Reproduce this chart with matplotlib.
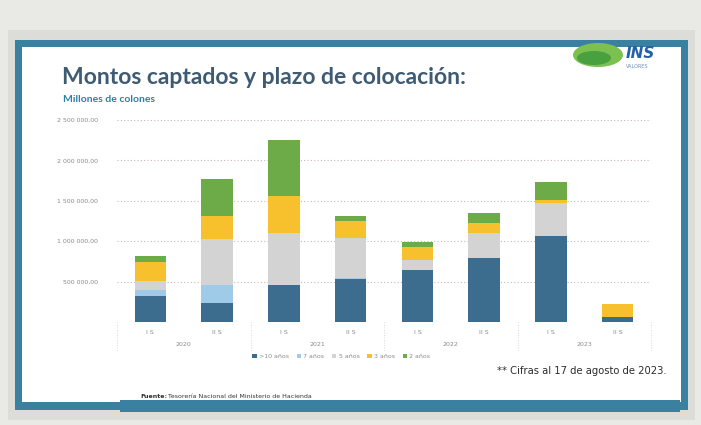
import matplotlib.pyplot as plt
from matplotlib.patches import Rectangle, Ellipse
from matplotlib.ticker import FuncFormatter
import numpy as np

# Semestres y años
semestres = ["I S", "II S", "I S", "II S", "I S", "II S", "I S", "II S"]
anios = ["2020", "2021", "2022", "2023"]

# Montos captados por plazo (millones de colones)
plazos = [">10 años", "7 años", "5 años", "3 años", "2 años"]
mas_10 = [321000, 238000, 453000, 536000, 646000, 790000, 1070000, 62000]
siete = [69000, 226000, 10000, 10000, 0, 0, 0, 0]
cinco = [123000, 568000, 642000, 494000, 123000, 312000, 403000, 0]
tres = [235000, 284000, 452000, 205000, 157000, 123000, 37000, 157000]
dos = [74000, 457000, 700000, 67000, 62000, 120000, 217000, 0]

colores = ["#3d6d8e", "#9fcbe9", "#d3d3d3", "#f6c12d", "#6daa48"]

W, H = 701, 425


def fx(x):
    return x / W


def fy(y):
    return 1 - y / H


def caja(x0, y0, x1, y1, color, z=-5):
    fig.patches.append(Rectangle((fx(x0), fy(y1)), fx(x1 - x0), (y1 - y0) / H,
                                 transform=fig.transFigure, facecolor=color,
                                 edgecolor="none", zorder=z))


fig = plt.figure(figsize=(7.01, 4.25), dpi=100)
fig.patch.set_facecolor("#e9e9e6")

# marco de la diapositiva
caja(8, 30, 695, 420, "#dcdcd8", -6)
caja(15, 40, 688, 410, "#3a80a0", -5)
caja(22, 47, 681, 402, "white", -4)
caja(120, 400, 680, 412, "#3a80a0", -3)

# titulo
fig.text(fx(62), fy(78), "Montos captados y plazo de colocación:", fontsize=16.5,
         fontweight="bold", color="#3e5b74", family="Lato", va="center")
fig.text(fx(63), fy(99), "Millones de colones", fontsize=7.5, fontweight="bold",
         color="#2f7fa3", family="Lato", va="center")

# logo
fig.patches.append(Ellipse((fx(598), fy(55)), fx(50), 24 / H, transform=fig.transFigure,
                           facecolor="#7cc050", edgecolor="none", zorder=-2))
fig.patches.append(Ellipse((fx(594), fy(58)), fx(34), 14 / H, transform=fig.transFigure,
                           facecolor="#49a03e", edgecolor="none", zorder=-2))
fig.text(fx(626), fy(54), "INS", fontsize=11, fontweight="bold", style="italic",
         color="#2462a8", va="center")
fig.text(fx(626), fy(67), "VALORES", fontsize=3.5, color="#6a8fb0", va="center")

# grafico
ax = fig.add_axes([fx(117), fy(322), fx(534), 202 / H])
x = np.arange(len(semestres))
series = [mas_10, siete, cinco, tres, dos]
base = np.zeros(len(semestres))
for nombre, vals, c in zip(plazos, series, colores):
    ax.bar(x, vals, 0.47, bottom=base, color=c, label=nombre, zorder=3)
    base += np.array(vals)

ax.set_xlim(-0.5, len(semestres) - 0.5)
ax.set_ylim(0, 2500000)
ax.set_yticks([500000, 1000000, 1500000, 2000000, 2500000])
ax.yaxis.set_major_formatter(FuncFormatter(
    lambda v, p: f"{v:,.2f}".replace(",", " ").replace(".", ",")))
ax.set_xticks(x)
ax.set_xticklabels(semestres)
ax.tick_params(axis="both", length=0, labelsize=4.5, labelcolor="#8a8a8a", pad=6)
ax.tick_params(axis="y", pad=14)
ax.grid(axis="y", linestyle=(0, (1, 2)), color="#c8b8b8", linewidth=0.8, zorder=0)
for s in ax.spines.values():
    s.set_visible(False)
ax.patch.set_alpha(0)

for i, a in enumerate(anios):
    ax.text(2 * i + 0.5, -0.11, a, transform=ax.get_xaxis_transform(),
            ha="center", va="center", fontsize=4.5, color="#8a8a8a")
for i in range(len(anios) + 1):
    ax.plot([2 * i - 0.5] * 2, [0, -0.14], transform=ax.get_xaxis_transform(),
            clip_on=False, color="#cccccc", linewidth=0.6, linestyle=(0, (1, 2)))

ax.legend(loc="upper center", bbox_to_anchor=(0.42, -0.13), ncol=5, frameon=False,
          fontsize=4.5, handlelength=0.7, handleheight=0.7, columnspacing=1.2,
          handletextpad=0.4, labelcolor="#8a8a8a")

fig.text(fx(497), fy(371), "** Cifras al 17 de agosto de 2023.", fontsize=7.2,
         color="#2c2c2c", va="center")
fig.text(fx(140), fy(396), "Fuente:", fontsize=4.5, fontweight="bold", color="#333333",
         va="center")
fig.text(fx(168), fy(396), "Tesorería Nacional del Ministerio de Hacienda", fontsize=4.5,
         color="#333333", va="center")

fig.savefig("out.png", dpi=100, facecolor=fig.get_facecolor())
